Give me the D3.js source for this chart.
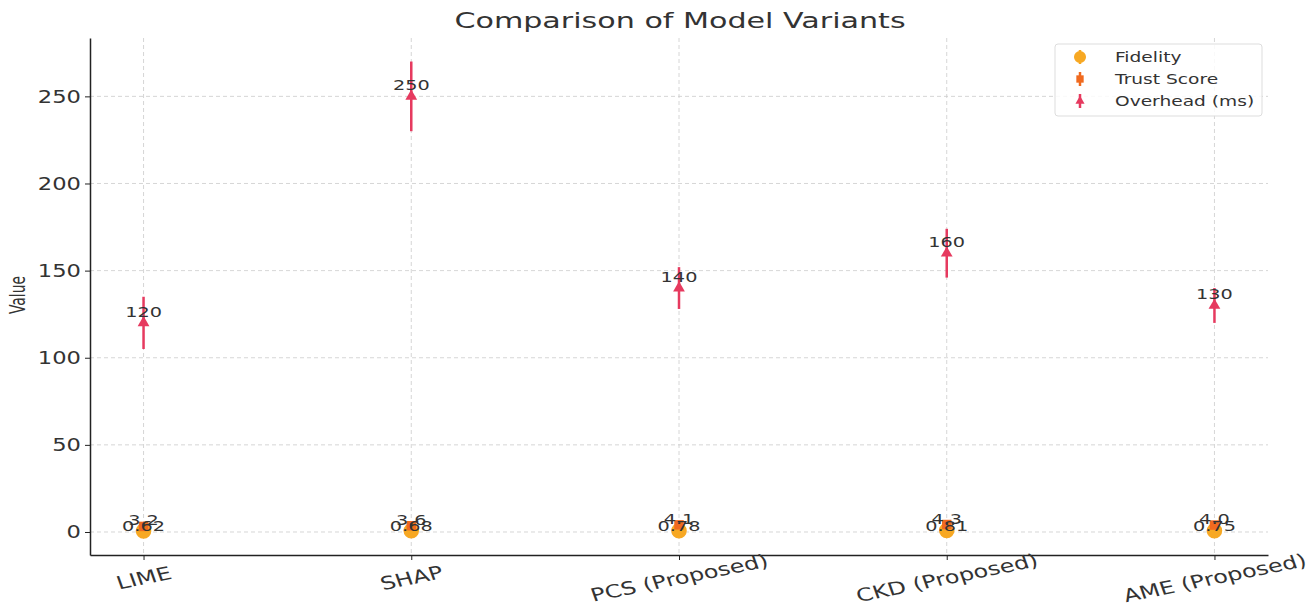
<!DOCTYPE html>
<html>
<head>
<meta charset="utf-8">
<script src="https://cdn.jsdelivr.net/npm/d3@7"></script>
<style>
  body { margin: 0; background: #fff; }
  text { font-family: "DejaVu Sans", sans-serif; fill: #333; }
</style>
</head>
<body>
<svg id="chart" width="1314" height="615"></svg>
<script>

var categories = ["LIME", "SHAP", "PCS (Proposed)", "CKD (Proposed)", "AME (Proposed)"]
var fidelity = [0.62, 0.68, 0.78, 0.81, 0.75]
var fidelity_err = [0.03, 0.03, 0.02, 0.02, 0.02]
var trust = [3.2, 3.6, 4.1, 4.3, 4.0]
var trust_err = [0.2, 0.2, 0.15, 0.1, 0.15]
var overhead = [120, 250, 140, 160, 130]
var overhead_err = [15, 20, 12, 14, 10]
var y_ticks = [0, 50, 100, 150, 200, 250]

// the reference text is wide, stretch it sideways
var sx = 1.33

var svg = d3.select("#chart")
var margin = {left: 90, right: 46, top: 38, bottom: 60}
var width = 1314 - margin.left - margin.right
var height = 615 - margin.top - margin.bottom

var g = svg.append("g").attr("transform", "translate(" + margin.left + "," + margin.top + ")")

var x = d3.scaleLinear().domain([-0.2, categories.length - 0.8]).range([0, width])
var y = d3.scaleLinear().domain([-13.2, 283.5]).range([height, 0])

// grid
g.append("g").selectAll("line").data(y_ticks).enter().append("line")
    .attr("x1", 0).attr("x2", width)
    .attr("y1", function(d){ return y(d) }).attr("y2", function(d){ return y(d) })
    .attr("stroke", "#ccc").attr("stroke-dasharray", "4,3").attr("stroke-width", 0.8)
g.append("g").selectAll("line").data(categories).enter().append("line")
    .attr("x1", function(d, i){ return x(i) }).attr("x2", function(d, i){ return x(i) })
    .attr("y1", 0).attr("y2", height)
    .attr("stroke", "#ccc").attr("stroke-dasharray", "4,3").attr("stroke-width", 0.8)

// axes
var yAxis = g.append("g")
    .call(d3.axisLeft(y).tickValues(y_ticks).tickSize(5).tickSizeOuter(0))
yAxis.select(".domain").attr("stroke", "#222").attr("stroke-width", 1.5)
yAxis.selectAll(".tick line").attr("stroke", "#222")
yAxis.selectAll("text")
    .attr("x", 0).attr("dy", "0.35em")
    .attr("transform", "translate(-9,0) scale(" + sx + ",1)")
    .style("font-size", "17px").attr("fill", "#333")

var xAxis = g.append("g").attr("transform", "translate(0," + height + ")")
    .call(d3.axisBottom(x).tickValues(d3.range(categories.length)).tickSize(5).tickSizeOuter(0)
      .tickFormat(function(i){ return categories[i] }))
xAxis.select(".domain").attr("stroke", "#222").attr("stroke-width", 1.5)
xAxis.selectAll(".tick line").attr("stroke", "#222")
xAxis.selectAll("text")
    .attr("y", 0).attr("dy", 0)
    .style("font-size", "18px").attr("fill", "#333")
    .attr("text-anchor", "middle")
    .attr("transform", "translate(2,29) scale(" + sx + ",1) rotate(-15)")

// series
var series = [
  {name: "Fidelity", values: fidelity, err: fidelity_err, color: "#f7a823", shape: d3.symbolCircle, size: 190, dy: 0},
  {name: "Trust Score", values: trust, err: trust_err, color: "#f06a1f", shape: d3.symbolSquare, size: 90, dy: -1},
  {name: "Overhead (ms)", values: overhead, err: overhead_err, color: "#e63a5f", shape: d3.symbolTriangle, size: 60, dy: -6}
]

series.forEach(function(s){
  var sg = g.append("g")
  sg.selectAll("line").data(s.values).enter().append("line")
      .attr("x1", function(d, i){ return x(i) }).attr("x2", function(d, i){ return x(i) })
      .attr("y1", function(d, i){ return y(d - s.err[i]) })
      .attr("y2", function(d, i){ return y(d + s.err[i]) })
      .attr("stroke", s.color).attr("stroke-width", 2.5)
  sg.selectAll("path").data(s.values).enter().append("path")
      .attr("d", d3.symbol().type(s.shape).size(s.size))
      .attr("transform", function(d, i){ return "translate(" + x(i) + "," + y(d) + ")" })
      .attr("fill", s.color)
})

// value labels
series.forEach(function(s){
  g.append("g").selectAll("text").data(s.values).enter().append("text")
      .attr("transform", function(d, i){ return "translate(" + x(i) + "," + (y(d) + s.dy) + ") scale(" + sx + ",1)" })
      .attr("text-anchor", "middle")
      .style("font-size", "14.5px")
      .attr("fill", "#333")
      .text(function(d){ return s.name == "Overhead (ms)" ? d : (s.name == "Trust Score" ? d.toFixed(1) : d.toFixed(2)) })
})

// title, y label
svg.append("text").attr("transform", "translate(680,28) scale(" + (sx + 0.04) + ",1)").attr("text-anchor", "middle")
    .style("font-size", "22px").text("Comparison of Model Variants")
svg.append("text").attr("transform", "translate(25,295) scale(" + sx + ",1) rotate(-90)").attr("text-anchor", "middle")
    .style("font-size", "15.5px").style("font-family", "'DejaVu Sans Condensed', sans-serif").text("Value")

// legend
var legend = svg.append("g").attr("transform", "translate(1055,44)")
legend.append("rect").attr("width", 207).attr("height", 72).attr("rx", 3)
    .attr("fill", "#fff").attr("fill-opacity", 0.85).attr("stroke", "#ddd")
series.forEach(function(s, i){
  var ly = 13 + i * 22
  legend.append("line").attr("x1", 25).attr("x2", 25).attr("y1", ly - 7).attr("y2", ly + 7)
      .attr("stroke", s.color).attr("stroke-width", 2.5)
  legend.append("path").attr("d", d3.symbol().type(s.shape).size(s.size * 0.6))
      .attr("transform", "translate(25," + ly + ")").attr("fill", s.color)
  legend.append("text").attr("transform", "translate(60," + (ly + 5) + ") scale(" + sx + ",1)")
      .style("font-size", "14px").text(s.name)
})

</script>
</body>
</html>
